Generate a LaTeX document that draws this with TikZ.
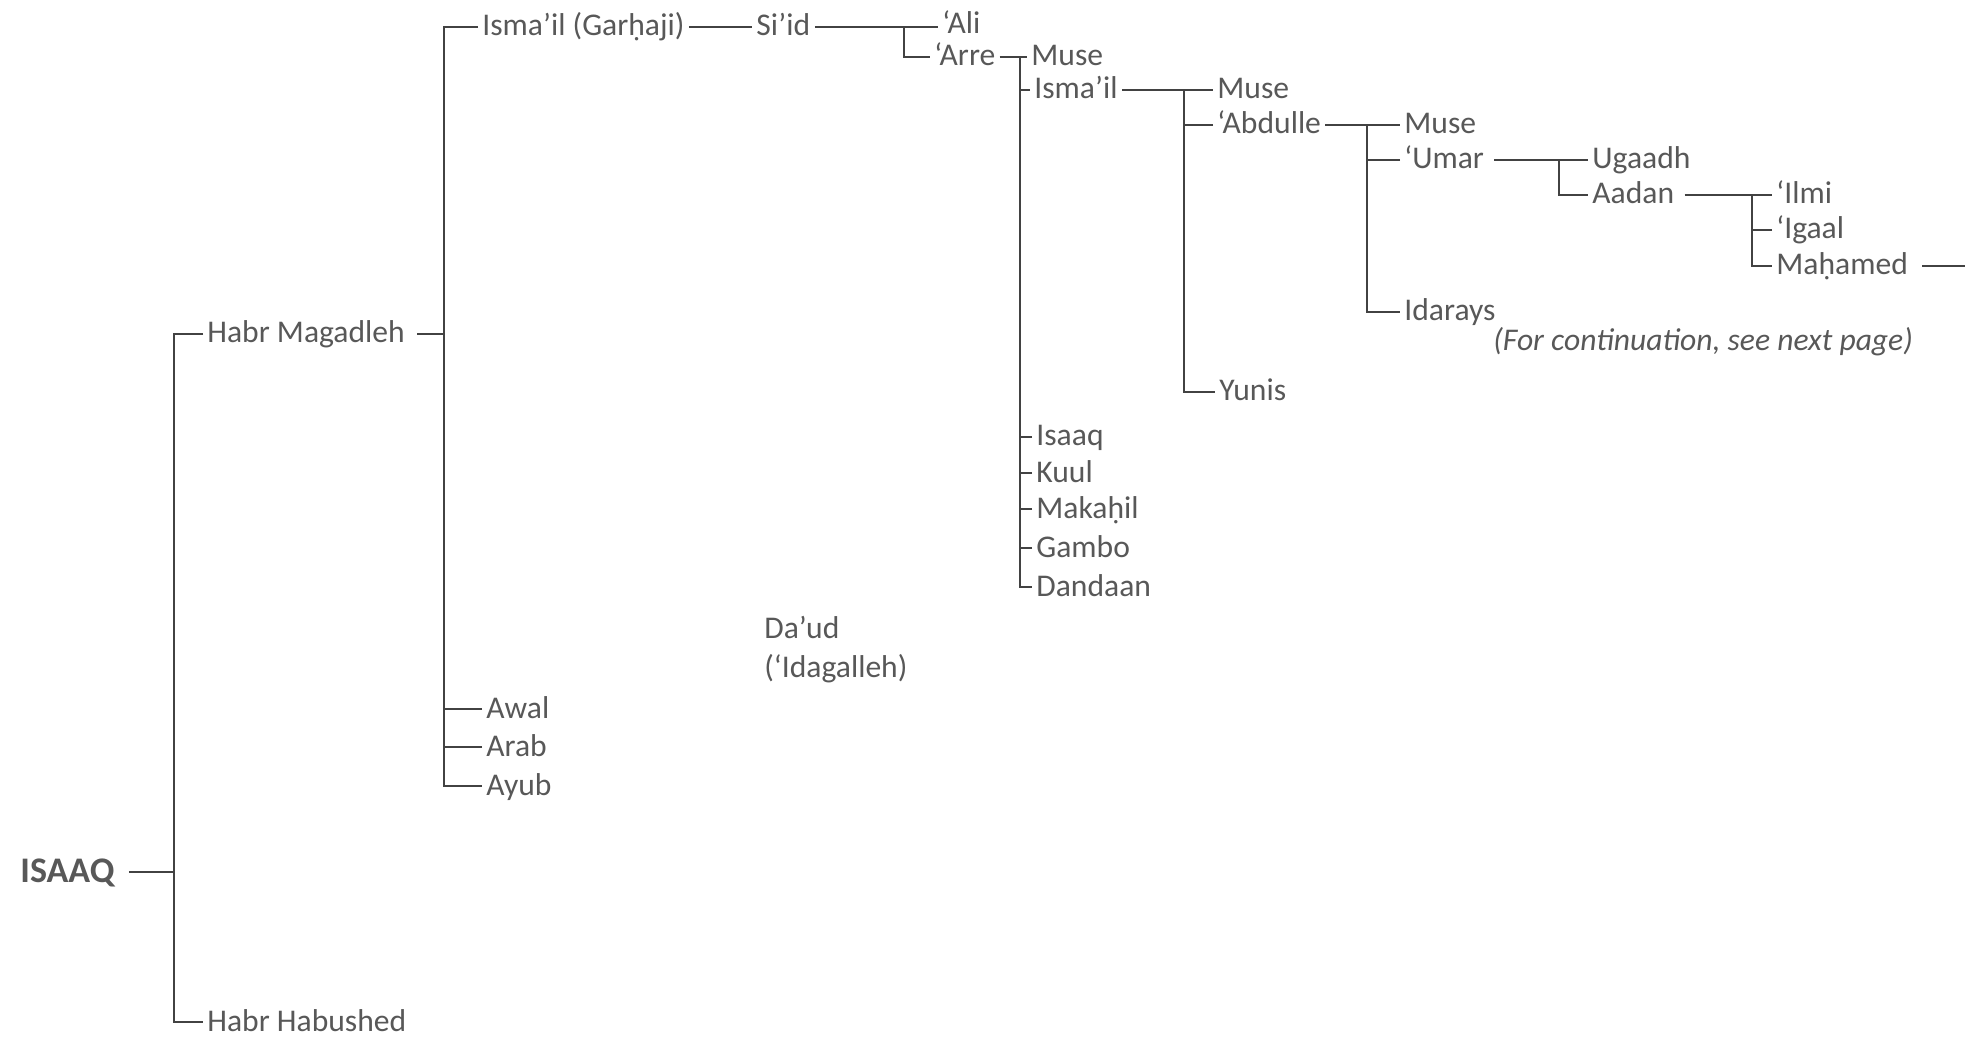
\documentclass[tikz,border=0pt]{standalone}
\usepackage{fontspec}
\setmainfont{Carlito}
\usepackage{xcolor}
\usepackage{tikz}
\usetikzlibrary{positioning, calc}
\definecolor{txtgray}{RGB}{88,88,88}
\definecolor{linegray}{RGB}{66,66,66}
\tikzstyle{person} = [anchor=west, inner sep=2pt, text=txtgray, font=\fontsize{15.8}{19.5}\selectfont, text height=11.4pt, text depth=2.4pt]
\tikzstyle{root} = [person, font=\fontsize{18}{22}\selectfont\bfseries, text height=12pt, text depth=2pt]
\tikzstyle{note} = [person, font=\fontsize{15.8}{19.5}\selectfont\itshape]
\tikzstyle{link} = [draw=linegray, line width=1pt]

\begin{document}
\begin{tikzpicture}[x=0.5pt, y=-0.5pt]
    \useasboundingbox (0,0) rectangle (1979,1042);

    % bracket columns
    \coordinate (vA) at (174,0);
    \coordinate (vB) at (444,0);
    \coordinate (vC) at (904,0);
    \coordinate (vD) at (1020,0);
    \coordinate (vE) at (1184,0);
    \coordinate (vF) at (1367,0);
    \coordinate (vG) at (1559,0);
    \coordinate (vH) at (1752,0);
    \coordinate (cont) at (1965,0);

    \node (isaaq) [root] at (16,872) {ISAAQ};
    \node (magadleh) [person] at (203,334) {Habr Magadleh};
    \node (habushed) [person] at (203,1022) {Habr Habushed};

    \node (garhaji) [person] at (478,27) {Isma’il (Garḥaji)};
    \node (awal) [person] at (482,709) {Awal};
    \node (arab) [person] at (482,747) {Arab};
    \node (ayub) [person] at (482,786) {Ayub};
    \node (daud) [person, align=left, text height=, text depth=] at (760,650) {Da’ud\\(‘Idagalleh)};

    \node (sid) [person] at (752,27) {Si’id};
    \node (ali) [person] at (938,25) {‘Ali};
    \node (arre) [person] at (930,57) {‘Arre};

    \node (muse1) [person] at (1027,57) {Muse};
    \node (ismail) [person] at (1030,90) {Isma’il};
    \node (isaaqb) [person] at (1032,437) {Isaaq};
    \node (kuul) [person] at (1032,473) {Kuul};
    \node (makahil) [person] at (1032,509) {Makaḥil};
    \node (gambo) [person] at (1032,548) {Gambo};
    \node (dandaan) [person] at (1032,587) {Dandaan};

    \node (muse2) [person] at (1213,90) {Muse};
    \node (abdulle) [person] at (1213,125) {‘Abdulle};
    \node (yunis) [person] at (1215,392) {Yunis};

    \node (muse3) [person] at (1400,125) {Muse};
    \node (umar) [person] at (1400,160) {‘Umar};
    \node (idarays) [person] at (1400,312) {Idarays};

    \node (ugaadh) [person] at (1588,160) {Ugaadh};
    \node (aadan) [person] at (1588,195) {Aadan};

    \node (ilmi) [person] at (1772,195) {‘Ilmi};
    \node (igaal) [person] at (1772,230) {‘Igaal};
    \node (mahamed) [person] at (1772,266) {Maḥamed};

    \node (next) [note] at (1489,342) {(For continuation, see next page)};

    % ISAAQ
    \draw [link, shorten <=5pt] (isaaq.east) -- (isaaq.east -| vA);
    \draw [link] (magadleh.west) -| (vA |- habushed.west) -- (habushed.west);

    % Habr Magadleh
    \draw [link, shorten <=4pt] (magadleh.east) -- (magadleh.east -| vB);
    \draw [link] (garhaji.west) -| (vB |- ayub.west) -- (ayub.west);
    \draw [link] (awal.west) -- (awal.west -| vB);
    \draw [link] (arab.west) -- (arab.west -| vB);

    % Isma'il (Garhaji) and Si'id
    \draw [link] (garhaji.east) -- (sid.west);
    \draw [link] (sid.east) -- (sid.east -| ali.west);
    \draw [link] (sid.east -| vC) |- (arre.west);

    % 'Arre
    \draw [link] (arre.east) -- (muse1.west);
    \draw [link] (muse1.west -| vD) |- (dandaan.west);
    \draw [link] (ismail.west) -- (ismail.west -| vD);
    \draw [link] (isaaqb.west) -- (isaaqb.west -| vD);
    \draw [link] (kuul.west) -- (kuul.west -| vD);
    \draw [link] (makahil.west) -- (makahil.west -| vD);
    \draw [link] (gambo.west) -- (gambo.west -| vD);

    % Isma'il
    \draw [link] (ismail.east) -- (muse2.west);
    \draw [link] (muse2.west -| vE) |- (yunis.west);
    \draw [link] (abdulle.west) -- (abdulle.west -| vE);

    % 'Abdulle
    \draw [link] (abdulle.east) -- (muse3.west);
    \draw [link] (muse3.west -| vF) |- (idarays.west);
    \draw [link] (umar.west) -- (umar.west -| vF);

    % 'Umar
    \draw [link, shorten <=3pt] (umar.east) -- (ugaadh.west);
    \draw [link] (ugaadh.west -| vG) |- (aadan.west);

    % Aadan
    \draw [link, shorten <=3pt] (aadan.east) -- (ilmi.west);
    \draw [link] (ilmi.west -| vH) |- (mahamed.west);
    \draw [link] (igaal.west) -- (igaal.west -| vH);
    \draw [link, shorten <=5pt] (mahamed.east) -- (mahamed.east -| cont);
\end{tikzpicture}
\end{document}
